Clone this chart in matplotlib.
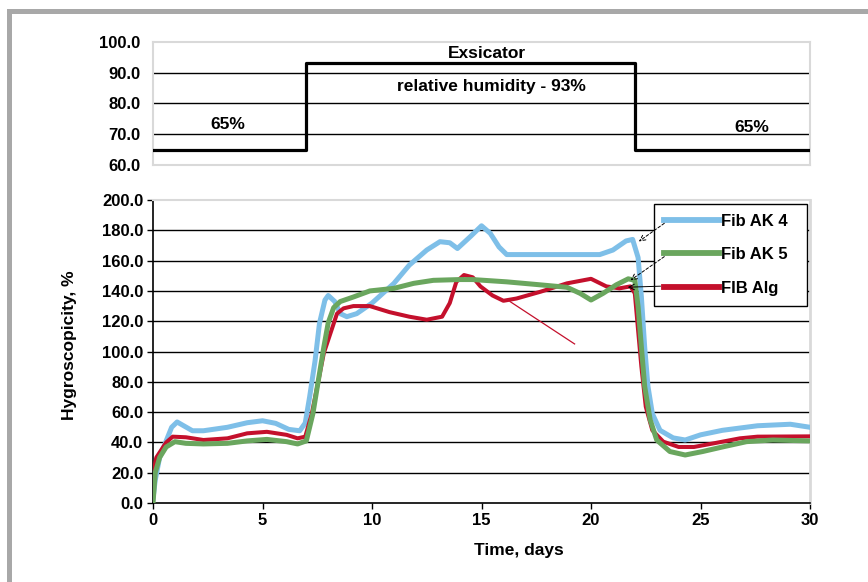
import matplotlib
matplotlib.use("Agg")
import matplotlib.pyplot as plt
from matplotlib.patches import Rectangle

plt.rcParams['font.family'] = ['Liberation Sans', 'DejaVu Sans']
plt.rcParams['font.weight'] = 'bold'

# Humidity regime (top panel)
rh_time = [0, 7, 7, 22, 22, 30]
rh_value = [65, 65, 93, 93, 65, 65]

# Hygroscopicity curves (bottom panel)
ak4_t = [0, 0.1, 0.3, 0.6, 0.85, 1.1, 1.4, 1.8, 2.3, 3.4, 4.3, 5.0, 5.6, 6.2, 6.7, 6.95,
         7.15, 7.4, 7.6, 7.85, 8.0, 8.3, 8.55, 8.85, 9.3, 10.0, 11.0, 11.7, 12.5, 13.1,
         13.55, 13.9, 14.5, 15.0, 15.4, 15.8, 16.15, 17, 18, 19, 20.4, 21.0, 21.6, 21.9,
         22.15, 22.3, 22.45, 22.6, 22.8, 23.15, 23.75, 24.3, 25, 26, 27.6, 29.1, 30]
ak4_v = [3, 15, 30, 41, 50, 53.5, 51, 47.7, 47.7, 50, 53, 54.3, 52.6, 48.6, 47.7, 52.8,
         70, 94, 118.6, 134, 137, 133, 125, 123, 125, 132, 145, 157, 167, 172.5,
         171.8, 168, 176, 183, 178, 169, 164, 164, 164, 164, 164, 167, 173, 174,
         162, 136, 103, 77, 59, 48, 43, 41.6, 45, 48, 51, 52, 50]

ak5_t = [0, 0.1, 0.3, 0.6, 1.0, 1.5, 2.3, 3.4, 4.3, 5.2, 6.1, 6.6, 7.0, 7.3, 7.55, 7.8,
         8.0, 8.25, 8.55, 9.15, 9.9, 11.0, 11.9, 12.8, 14.0, 14.6, 16.15, 17.7, 18.9,
         19.5, 20.0, 20.55, 21.15, 21.7, 22.0, 22.15, 22.3, 22.45, 22.7, 23.0, 23.6,
         24.3, 25.1, 26.0, 27.1, 28.3, 30]
ak5_v = [0, 20, 30, 37, 40.5, 39.4, 39, 39.4, 41, 42, 40.5, 39, 41, 59, 81, 103,
         119, 129, 133, 136, 140, 141.7, 145, 147, 147.5, 147.5, 146, 144, 142.4,
         138.4, 134, 138.4, 144, 148, 147, 129.6, 103, 77, 55, 41.6, 34,
         31.7, 34, 37, 40.5, 41.6, 41]

alg_t = [0, 0.15, 0.6, 0.9, 1.5, 2.3, 3.4, 4.3, 5.2, 6.1, 6.6, 6.95, 7.25, 7.5, 7.8,
         8.1, 8.4, 8.7, 9.15, 9.9, 10.8, 11.7, 12.5, 13.2, 13.55, 13.85, 14.2, 14.6,
         14.95, 15.5, 16.0, 16.6, 17.7, 18.9, 20.0, 20.7, 21.3, 21.8, 22.0, 22.15,
         22.3, 22.5, 22.8, 23.3, 24.0, 24.7, 25.6, 26.8, 27.6, 30]
alg_v = [19, 30, 40, 43.8, 43.4, 41.6, 42.7, 46, 47, 45, 42.7, 43.8, 59, 77, 99,
         112, 125, 128.5, 130, 130, 126, 123, 121, 123, 132, 146, 150.5, 149,
         143, 137, 133.5, 135, 139.5, 145, 148, 143, 141.7, 143, 138.4, 114,
         90, 63.6, 48, 40.5, 37, 37, 39.4, 42.7, 43.8, 44]

# stray thin red segment
stray_t = [16.3, 19.25]
stray_v = [133, 105]

labels = ['Fib AK 4', 'Fib AK 5', 'FIB Alg']
colors = ['#7ebfe8', '#6aa65e', '#c4102c']

fig = plt.figure(figsize=(8.68, 5.82), dpi=100)

# gray frame pieces
fig.add_artist(Rectangle((7 / 868, 0), 5 / 868, 573 / 582, transform=fig.transFigure,
                         color='#a8a8a8', lw=0))
fig.add_artist(Rectangle((7 / 868, 568 / 582), 1, 5 / 582, transform=fig.transFigure,
                         color='#a8a8a8', lw=0))

# ---- top panel: relative humidity
ax1 = fig.add_axes([0.1763, 0.7165, 0.7569, 0.2119])
for lv in [70, 80, 90]:
    ax1.axhline(lv, color='black', lw=1.0, zorder=1)
ax1.plot(rh_time, rh_value, color='black', lw=2.3, zorder=3)
ax1.set_xlim(0, 30)
ax1.set_ylim(60, 100)
ax1.set_yticks([60, 70, 80, 90, 100])
ax1.set_yticklabels(['60.0', '70.0', '80.0', '90.0', '100.0'])
ax1.set_xticks([])
ax1.tick_params(axis='y', length=0, pad=9, labelsize=12)
for s in ax1.spines.values():
    s.set_color('#d9d9d9')
    s.set_linewidth(1.5)
ax1.text(15.25, 96.3, 'Exsicator', ha='center', va='center', fontsize=12.5)
ax1.text(15.45, 85.4, 'relative humidity - 93%', ha='center', va='center', fontsize=12.5)
ax1.text(3.4, 73, '65%', ha='center', va='center', fontsize=12.5)
ax1.text(27.35, 72.3, '65%', ha='center', va='center', fontsize=12.5)

# ---- bottom panel: hygroscopicity
ax2 = fig.add_axes([0.1763, 0.1357, 0.7569, 0.5206])
for lv in range(20, 200, 20):
    ax2.axhline(lv, color='black', lw=1.0, zorder=1)
l1, = ax2.plot(ak4_t, ak4_v, color=colors[0], lw=3.6, label=labels[0], zorder=3)
l3, = ax2.plot(alg_t, alg_v, color=colors[2], lw=2.9, label=labels[2], zorder=4)
l2, = ax2.plot(ak5_t, ak5_v, color=colors[1], lw=3.6, label=labels[1], zorder=5)
ax2.plot(stray_t, stray_v, color=colors[2], lw=0.9, zorder=4)

ax2.set_xlim(0, 30)
ax2.set_ylim(0, 200)
ax2.set_xticks(range(0, 31, 5))
ax2.set_yticks(range(0, 201, 20))
ax2.set_yticklabels([f'{v:.1f}' for v in range(0, 201, 20)])
ax2.tick_params(axis='both', direction='out', length=4, width=1, labelsize=12, pad=3)
ax2.spines['left'].set_color('black')
ax2.spines['bottom'].set_color('black')
ax2.spines['left'].set_linewidth(1.2)
ax2.spines['bottom'].set_linewidth(1.2)
ax2.spines['top'].set_color('#d9d9d9')
ax2.spines['right'].set_color('#d9d9d9')
ax2.spines['top'].set_linewidth(1.5)
ax2.spines['right'].set_linewidth(2)
ax2.set_xlabel('Time, days', fontsize=12.5, fontweight='bold')
ax2.set_ylabel('Hygroscopicity, %', fontsize=12.5, fontweight='bold')
ax2.xaxis.set_label_coords(0.557, -0.133)
ax2.yaxis.set_label_coords(-0.1157, 0.52)

leg = ax2.legend([l1, l2, l3], [lab + '  ' for lab in labels], loc='upper right',
                 bbox_to_anchor=(0.9954, 0.987),
                 fontsize=12, handlelength=3.3, handletextpad=0.1, labelspacing=1.1,
                 borderpad=0.6, borderaxespad=0, fancybox=False, framealpha=1)
leg.get_frame().set_edgecolor('black')
leg.get_frame().set_linewidth(1.0)
leg.set_zorder(10)
for h in leg.get_lines():
    h.set_linewidth(4.2)

arrow_kw = dict(arrowstyle='->', color='black', lw=0.7)
ax2.annotate('', xy=(22.08, 171.6), xytext=(23.45, 185.7),
             arrowprops=dict(arrow_kw, linestyle=(0, (3, 2))), zorder=11)
ax2.annotate('', xy=(21.7, 146), xytext=(23.45, 163.7),
             arrowprops=dict(arrow_kw, linestyle=(0, (3, 2))), zorder=11)
ax2.annotate('', xy=(21.55, 142.4), xytext=(23.3, 143.2),
             arrowprops=arrow_kw, zorder=11)

fig.savefig('out.png', dpi=100)
